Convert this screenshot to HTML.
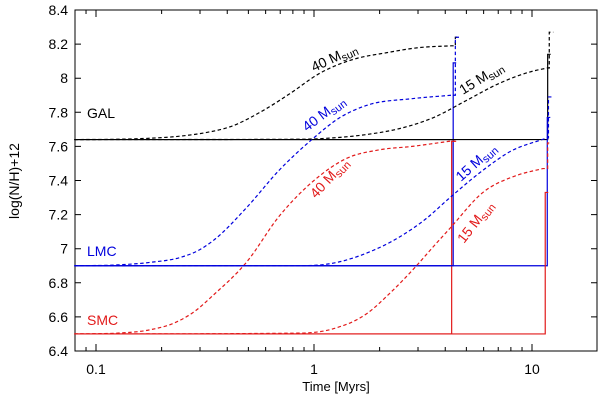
<!DOCTYPE html>
<html><head><meta charset="utf-8">
<style>
html,body{margin:0;padding:0;background:#fff;}
svg{display:block;font-family:"Liberation Sans",sans-serif;}
</style></head>
<body>
<svg id="chart" width="600" height="401" viewBox="0 0 600 401" xmlns="http://www.w3.org/2000/svg">
<g id="grid"></g>
<g id="series"></g>
<g id="labels"></g>
</svg>
<script>
// ---- data ----
const xTickLabels = ["0.1","1","10"];
const xTickValues = [0.1,1,10];
const yTickValues = [6.4,6.6,6.8,7.0,7.2,7.4,7.6,7.8,8.0,8.2,8.4];
const yTickLabels = ["6.4","6.6","6.8","7","7.2","7.4","7.6","7.8","8","8.2","8.4"];

// dashed curves: log10(time) and log(N/H)+12
const gal40LogT = [-1.1,-0.9,-0.75,-0.615,-0.5,-0.385,-0.234,-0.11,0.028,0.179,0.335,0.486,0.63];
const gal40Val  = [7.64,7.642,7.648,7.66,7.68,7.715,7.81,7.91,8.03,8.11,8.15,8.18,8.19];
const lmc40LogT = [-1.1,-0.9,-0.75,-0.61,-0.53,-0.46,-0.31,-0.16,-0.01,0.12,0.24,0.45,0.63];
const lmc40Val  = [6.90,6.905,6.92,6.95,6.99,7.05,7.24,7.46,7.64,7.77,7.84,7.88,7.90];
const smc40LogT = [-1.1,-0.9,-0.75,-0.64,-0.55,-0.46,-0.31,-0.16,0.0,0.15,0.30,0.45,0.62];
const smc40Val  = [6.50,6.505,6.525,6.565,6.63,6.73,6.92,7.19,7.40,7.53,7.58,7.60,7.63];
const gal15LogT = [-1.1,-0.06,0.087,0.243,0.394,0.55,0.70,0.85,1.0,1.07];
const gal15Val  = [7.64,7.642,7.65,7.67,7.705,7.77,7.87,7.97,8.04,8.06];
const lmc15LogT = [-1.1,-0.064,0.087,0.243,0.394,0.518,0.615,0.775,0.90,1.07];
const lmc15Val  = [6.90,6.90,6.915,6.975,7.07,7.18,7.29,7.46,7.57,7.65];
const smc15LogT = [-1.1,-0.064,0.087,0.243,0.349,0.463,0.546,0.624,0.775,0.93,1.05];
const smc15Val  = [6.50,6.505,6.53,6.62,6.74,6.89,7.01,7.12,7.33,7.43,7.47];
// dashed end-jump tops
const dashTopT   = [4.45,4.45,4.35,12.0,11.9,11.8];
const dashTopVal = [8.24,8.24,7.63,8.27,7.89,7.62];
// solid lines: base value, jump time, jump top
const solidBase  = [7.64,6.90,6.50,7.64,6.90,6.50];
const solidJumpT = [4.3,4.35,4.28,11.8,11.75,11.5];
const solidTop   = [7.64,8.09,7.63,8.14,7.77,7.33];

// ---- axes ----
const X0=75,X1=597,Y0=10,Y1=351;
const xs=t=>314+218*Math.log10(t);
const xl=l=>314+218*l;
const ys=v=>351-(v-6.4)*170.5;
const NS="http://www.w3.org/2000/svg";
function mk(tag,attrs,parent){const e=document.createElementNS(NS,tag);for(const k in attrs)e.setAttribute(k,attrs[k]);parent.appendChild(e);return e;}
const grid=document.getElementById('grid'),ser=document.getElementById('series'),lab=document.getElementById('labels');

const frame=mk('rect',{x:X0,y:Y0,width:X1-X0,height:Y1-Y0,fill:'none',stroke:'#000','stroke-width':1},grid);



yTickValues.forEach((v,i)=>{
  const y=ys(v);
  const t=mk('path',{d:`M${X0} ${y}h6M${X1} ${y}h-6`,stroke:'#000','stroke-width':1},grid);
  
  
  const tx=mk('text',{x:68,y:y+5,'text-anchor':'end','font-size':14,fill:'#000'},lab);
  tx.textContent=yTickLabels[i];
  
  
});
for(let d=0.01;d<100;d*=10){for(let k=1;k<10;k++){const t=d*k;const x=xs(t);if(x<X0||x>X1)continue;const L=(k===1)?7:4;
  const tk=mk('path',{d:`M${x} ${Y1}v-${L}M${x} ${Y0}v${L}`,stroke:'#000','stroke-width':1},grid);
  
  }}
xTickValues.forEach((v,i)=>{
  const tx=mk('text',{x:xs(v),y:374,'text-anchor':'middle','font-size':14,fill:'#000'},lab);
  tx.textContent=xTickLabels[i];
  
  
});
const xt=mk('text',{x:336,y:391,'text-anchor':'middle','font-size':13,fill:'#000'},lab);
xt.textContent='Time [Myrs]';


const yt=mk('text',{x:0,y:0,'text-anchor':'middle','font-size':14,fill:'#000',transform:'translate(19,181) rotate(-90)'},lab);
yt.textContent='log(N/H)+12';



// ---- series ----
// monotone cubic (Fritsch-Carlson) path through points
function monotone(pts){
  const n=pts.length,dx=[],m=[],s=[];
  for(let i=0;i<n-1;i++){dx[i]=pts[i+1][0]-pts[i][0];s[i]=(pts[i+1][1]-pts[i][1])/dx[i];}
  m[0]=s[0];m[n-1]=s[n-2];
  for(let i=1;i<n-1;i++){m[i]=(s[i-1]*s[i]<=0)?0:(s[i-1]*dx[i]+s[i]*dx[i-1])/(dx[i]+dx[i-1]);}
  for(let i=0;i<n-1;i++){if(s[i]===0){m[i]=0;m[i+1]=0;continue;}
    const a=m[i]/s[i],b=m[i+1]/s[i],h=a*a+b*b;if(h>9){const t=3/Math.sqrt(h);m[i]=t*a*s[i];m[i+1]=t*b*s[i];}}
  let d=`M${pts[0][0]} ${pts[0][1]}`;
  for(let i=0;i<n-1;i++){const h=dx[i]/3;
    d+=` C${pts[i][0]+h} ${pts[i][1]+m[i]*h} ${pts[i+1][0]-h} ${pts[i+1][1]-m[i+1]*h} ${pts[i+1][0]} ${pts[i+1][1]}`;}
  return d;
}
const colors=['#000','#0000dd','#e21a1a','#000','#0000dd','#e21a1a'];
const names=['gal-40','lmc-40','smc-40','gal-15','lmc-15','smc-15'];
const lts=[gal40LogT,lmc40LogT,smc40LogT,gal15LogT,lmc15LogT,smc15LogT];
const vals=[gal40Val,lmc40Val,smc40Val,gal15Val,lmc15Val,smc15Val];
for(let i=0;i<6;i++){
  const sd=`M${X0} ${ys(solidBase[i])}H${xs(solidJumpT[i])}V${ys(solidTop[i])}h3`;
  const s=mk('path',{d:sd,fill:'none',stroke:colors[i],'stroke-width':1.2},ser);
  
  
}
for(let i=0;i<6;i++){
  const pts=lts[i].map((l,j)=>[xl(l),ys(vals[i][j])]);
  const last=pts[pts.length-1];
  const d=monotone(pts)+` L${xs(dashTopT[i])} ${last[1]} V${ys(dashTopVal[i])} h4`;
  const c=mk('path',{d:d,fill:'none',stroke:colors[i],'stroke-width':1.2,'stroke-dasharray':'3.5,2.5'},ser);
  
  
}

// ---- annotations ----
function label(txt,x,y,rot,col,name,plain){
  const g=mk('g',{transform:`translate(${x},${y}) rotate(${rot})`},lab);
  const t=mk('text',{x:0,y:0,'font-size':14,fill:col},g);
  if(plain){t.textContent=txt;}else{
    t.appendChild(document.createTextNode(txt+' M'));
    const s=mk('tspan',{'font-size':11,dy:3},t);s.textContent='sun';}
  
  
}
label('40',314,72,-25,'#000','label-gal-40');
label('40',307,132,-37,'#0000dd','label-lmc-40');
label('40',316,199,-47,'#e21a1a','label-smc-40');
label('15',463,95,-32,'#000','label-gal-15');
label('15',461,182,-42,'#0000dd','label-lmc-15');
label('15',464,244,-52,'#e21a1a','label-smc-15');
label('GAL',87,118,0,'#000','label-gal',true);
label('LMC',87,256,0,'#0000dd','label-lmc',true);
label('SMC',87,325,0,'#e21a1a','label-smc',true);
</script>
</body></html>
